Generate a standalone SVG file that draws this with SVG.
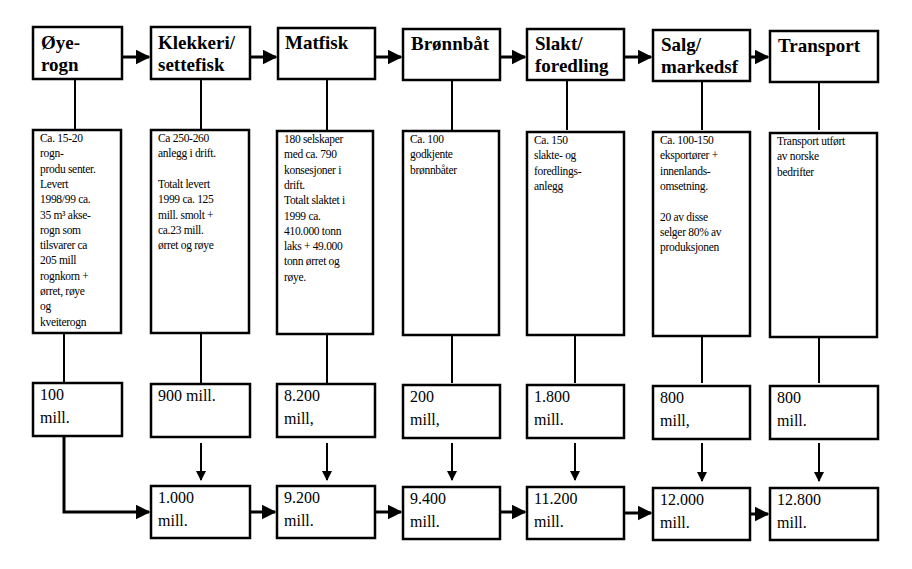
<svg xmlns="http://www.w3.org/2000/svg" width="912" height="569" viewBox="0 0 912 569">
<defs>
<style>
.b{fill:#fff;stroke:#000;stroke-width:2.5}
.t{font-family:"Liberation Serif",serif;font-weight:bold;font-size:19px}
.d{font-family:"Liberation Serif",serif;font-size:11.5px;letter-spacing:-0.3px}
.v{font-family:"Liberation Serif",serif;font-size:16px}
.c{stroke:#000;stroke-width:2;fill:none}
.h{stroke-width:3}
</style>
<marker id="a" viewBox="0 0 10 10" refX="9" refY="5" markerWidth="5" markerHeight="5" orient="auto" markerUnits="strokeWidth"><path d="M0,0L10,5L0,10z"/></marker>
</defs>
<rect width="912" height="569" fill="#fff"/>
<g id="connectors" class="c">
<path class="h" d="M122,57H149" marker-end="url(#a)"/>
<path class="h" d="M250,57H276" marker-end="url(#a)"/>
<path class="h" d="M375,57H401" marker-end="url(#a)"/>
<path class="h" d="M500,57H525" marker-end="url(#a)"/>
<path class="h" d="M624,57H651" marker-end="url(#a)"/>
<path class="h" d="M750,57H768" marker-end="url(#a)"/>
<path d="M75,79V130M201,79V130M327,79V130M452,79V130M567,79V130M702,79V130M819,79V130"/>
<path d="M64,333V383M201,333V383M327,333V383M452,333V383M575,333V383M702,333V383M819,333V383"/>
<path d="M201,443V480" marker-end="url(#a)"/>
<path d="M327,443V480" marker-end="url(#a)"/>
<path d="M452,443V480" marker-end="url(#a)"/>
<path d="M575,443V480" marker-end="url(#a)"/>
<path d="M702,443V481" marker-end="url(#a)"/>
<path d="M819,443V481" marker-end="url(#a)"/>
<path class="h" d="M64,436V512H149" marker-end="url(#a)" stroke-width="2.5"/>
<path class="h" d="M250,512H275" marker-end="url(#a)" stroke-width="2.5"/>
<path class="h" d="M375,512H401" marker-end="url(#a)" stroke-width="2.5"/>
<path class="h" d="M500,512H525" marker-end="url(#a)" stroke-width="2.5"/>
<path class="h" d="M624,513H651" marker-end="url(#a)" stroke-width="2.5"/>
<path class="h" d="M750,514H768" marker-end="url(#a)" stroke-width="2.5"/>
</g>
<g id="n1"><rect class="b" x="33" y="27" width="89" height="52"/><text class="t" x="41" y="49">Øye-</text><text class="t" x="41" y="71">rogn</text></g>
<g id="n2"><rect class="b" x="151" y="27" width="99" height="52"/><text class="t" x="158" y="49">Klekkeri/</text><text class="t" x="158" y="71">settefisk</text></g>
<g id="n3"><rect class="b" x="278" y="28" width="97" height="51"/><text class="t" x="285" y="49">Matfisk</text></g>
<g id="n4"><rect class="b" x="403" y="29" width="97" height="51"/><text class="t" x="411" y="50">Brønnbåt</text></g>
<g id="n5"><rect class="b" x="527" y="29" width="97" height="51"/><text class="t" x="535" y="50">Slakt/</text><text class="t" x="535" y="72">foredling</text></g>
<g id="n6"><rect class="b" x="653" y="30" width="97" height="51"/><text class="t" x="661" y="51">Salg/</text><text class="t" x="661" y="73">markedsf</text></g>
<g id="n7"><rect class="b" x="770" y="31" width="108" height="51"/><text class="t" x="778" y="52">Transport</text></g>

<g id="d1"><rect class="b" x="33" y="130" width="88" height="203"/><text class="d" x="40" y="142"><tspan x="40">Ca. 15-20</tspan><tspan x="40" dy="15.3">rogn-</tspan><tspan x="40" dy="15.3">produ senter.</tspan><tspan x="40" dy="15.3">Levert</tspan><tspan x="40" dy="15.3">1998/99 ca.</tspan><tspan x="40" dy="15.3">35 m³ akse-</tspan><tspan x="40" dy="15.3">rogn som</tspan><tspan x="40" dy="15.3">tilsvarer  ca</tspan><tspan x="40" dy="15.3">205  mill</tspan><tspan x="40" dy="15.3">rognkorn +</tspan><tspan x="40" dy="15.3">ørret,  røye</tspan><tspan x="40" dy="15.3">og</tspan><tspan x="40" dy="15.3">kveiterogn</tspan></text></g>
<g id="d2"><rect class="b" x="151" y="130" width="98" height="203"/><text class="d" x="158" y="142"><tspan x="158">Ca 250-260</tspan><tspan x="158" dy="15.3">anlegg i drift.</tspan><tspan x="158" dy="30.6">Totalt levert</tspan><tspan x="158" dy="15.3">1999 ca. 125</tspan><tspan x="158" dy="15.3">mill. smolt +</tspan><tspan x="158" dy="15.3">ca.23 mill.</tspan><tspan x="158" dy="15.3">ørret og røye</tspan></text></g>
<g id="d3"><rect class="b" x="277" y="131" width="96" height="203"/><text class="d" x="284" y="143"><tspan x="284">180 selskaper</tspan><tspan x="284" dy="15.3">med ca. 790</tspan><tspan x="284" dy="15.3">konsesjoner i</tspan><tspan x="284" dy="15.3">drift.</tspan><tspan x="284" dy="15.3">Totalt slaktet i</tspan><tspan x="284" dy="15.3">1999 ca.</tspan><tspan x="284" dy="15.3">410.000 tonn</tspan><tspan x="284" dy="15.3">laks + 49.000</tspan><tspan x="284" dy="15.3">tonn ørret og</tspan><tspan x="284" dy="15.3">røye.</tspan></text></g>
<g id="d4"><rect class="b" x="403" y="131" width="96" height="204"/><text class="d" x="410" y="143"><tspan x="410">Ca. 100</tspan><tspan x="410" dy="15.3">godkjente</tspan><tspan x="410" dy="15.3">brønnbåter</tspan></text></g>
<g id="d5"><rect class="b" x="527" y="132" width="97" height="203"/><text class="d" x="534" y="144"><tspan x="534">Ca. 150</tspan><tspan x="534" dy="15.3">slakte- og</tspan><tspan x="534" dy="15.3">foredlings-</tspan><tspan x="534" dy="15.3">anlegg</tspan></text></g>
<g id="d6"><rect class="b" x="653" y="132" width="97" height="204"/><text class="d" x="660" y="144"><tspan x="660">Ca. 100-150</tspan><tspan x="660" dy="15.3">eksportører +</tspan><tspan x="660" dy="15.3">innenlands-</tspan><tspan x="660" dy="15.3">omsetning.</tspan><tspan x="660" dy="30.6">20 av disse</tspan><tspan x="660" dy="15.3">selger 80%  av</tspan><tspan x="660" dy="15.3">produksjonen</tspan></text></g>
<g id="d7"><rect class="b" x="770" y="133" width="107" height="204"/><text class="d" x="777" y="145"><tspan x="777">Transport utført</tspan><tspan x="777" dy="15.3">av norske</tspan><tspan x="777" dy="15.3">bedrifter</tspan></text></g>

<g id="v1"><rect class="b" x="33" y="383" width="89" height="53"/><text class="v" x="40" y="400">100</text><text class="v" x="40" y="423">mill.</text></g>
<g id="v2"><rect class="b" x="151" y="384" width="99" height="53"/><text class="v" x="158" y="401">900 mill.</text></g>
<g id="v3"><rect class="b" x="277" y="384" width="98" height="53"/><text class="v" x="284" y="401">8.200</text><text class="v" x="284" y="424">mill,</text></g>
<g id="v4"><rect class="b" x="403" y="385" width="97" height="53"/><text class="v" x="410" y="402">200</text><text class="v" x="410" y="425">mill,</text></g>
<g id="v5"><rect class="b" x="527" y="385" width="97" height="53"/><text class="v" x="534" y="402">1.800</text><text class="v" x="534" y="425">mill.</text></g>
<g id="v6"><rect class="b" x="653" y="386" width="97" height="53"/><text class="v" x="660" y="403">800</text><text class="v" x="660" y="426">mill,</text></g>
<g id="v7"><rect class="b" x="770" y="386" width="108" height="53"/><text class="v" x="777" y="403">800</text><text class="v" x="777" y="426">mill.</text></g>

<g id="s2"><rect class="b" x="151" y="486" width="99" height="52"/><text class="v" x="158" y="503">1.000</text><text class="v" x="158" y="526">mill.</text></g>
<g id="s3"><rect class="b" x="277" y="486" width="98" height="52"/><text class="v" x="284" y="503">9.200</text><text class="v" x="284" y="526">mill.</text></g>
<g id="s4"><rect class="b" x="403" y="487" width="97" height="52"/><text class="v" x="410" y="504">9.400</text><text class="v" x="410" y="527">mill.</text></g>
<g id="s5"><rect class="b" x="527" y="487" width="97" height="52"/><text class="v" x="534" y="504">11.200</text><text class="v" x="534" y="527">mill.</text></g>
<g id="s6"><rect class="b" x="653" y="488" width="97" height="52"/><text class="v" x="660" y="505">12.000</text><text class="v" x="660" y="528">mill.</text></g>
<g id="s7"><rect class="b" x="770" y="488" width="108" height="52"/><text class="v" x="777" y="505">12.800</text><text class="v" x="777" y="528">mill.</text></g>
</svg>
